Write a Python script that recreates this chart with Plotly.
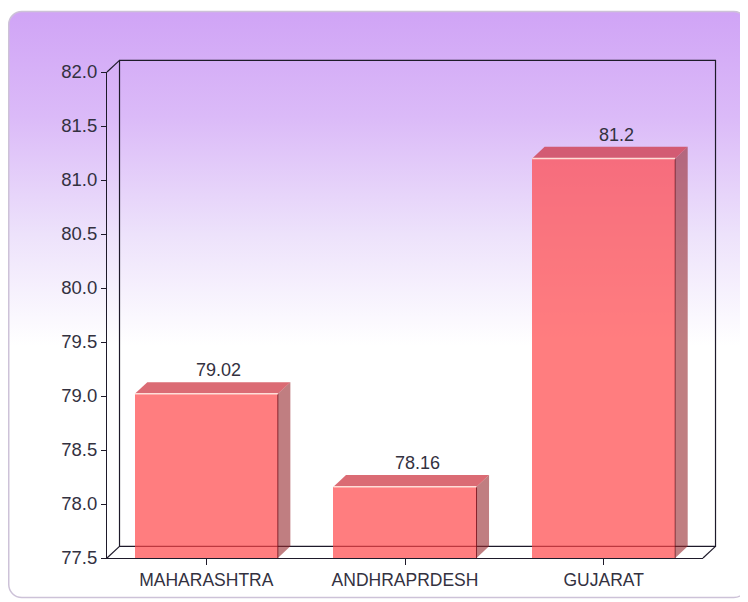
import base64
import plotly.graph_objects as go

# ---------------- data ----------------
categories = ["MAHARASHTRA", "ANDHRAPRDESH", "GUJARAT"]
values = [79.02, 78.16, 81.2]
value_labels = ["79.02", "78.16", "81.2"]
y_ticks = [77.5, 78.0, 78.5, 79.0, 79.5, 80.0, 80.5, 81.0, 81.5, 82.0]
y_tick_labels = ["77.5", "78.0", "78.5", "79.0", "79.5", "80.0", "80.5", "81.0", "81.5", "82.0"]

# ---------------- style ----------------
# the page has an 8px body margin, so the figure is 8px smaller than the window
W, H = 740, 594
ML, MR, MT, MB = 99, 45, 63.5, 42
Y0, Y1 = 77.5, 82.0
X0, X1 = -0.5, 2.5
BAR_W = 0.72
DX = 0.063   # depth offset in category units
DY = 0.108   # depth offset in value units
FONT = "Liberation Sans, Arial, sans-serif"
TXT = "#33313f"
FRAME = "#1e1a2a"

xs = list(range(len(categories)))

# background: rounded box with purple->white gradient (SVG image)
svg = f'''<svg xmlns="http://www.w3.org/2000/svg" width="{W}" height="{H}" viewBox="0 0 {W} {H}">
<defs>
<linearGradient id="g" x1="0" y1="0" x2="0" y2="1">
<stop offset="0" stop-color="#d0a4f6"/>
<stop offset="0.18" stop-color="#dbbaf8"/>
<stop offset="0.38" stop-color="#ede2fb"/>
<stop offset="0.57" stop-color="#ffffff"/>
<stop offset="1" stop-color="#ffffff"/>
</linearGradient>
</defs>
<rect x="0" y="0" width="{W}" height="{H}" fill="#ffffff"/>
<rect x="0.75" y="2.75" width="738" height="589" rx="13" ry="13" fill="url(#g)" stroke="#cdc2d8" stroke-width="1.5"/>
</svg>'''
svg_uri = "data:image/svg+xml;base64," + base64.b64encode(svg.encode()).decode()

pw = W - ML - MR
ph = H - MT - MB

fig = go.Figure()

# front faces
fig.add_trace(go.Bar(
    x=xs, y=[v - Y0 for v in values], base=Y0, width=BAR_W,
    marker=dict(color="rgba(255,70,72,0.7)", line=dict(width=0)),
    hoverinfo="skip", showlegend=False,
))

# side and top faces (derived from the data)
for x, v in zip(xs, values):
    xr = x + BAR_W / 2
    xl = x - BAR_W / 2
    fig.add_trace(go.Scatter(
        x=[xr, xr, xr + DX, xr + DX, xr], y=[Y0, v, v + DY, Y0 + DY, Y0],
        fill="toself", fillcolor="rgba(150,40,45,0.6)", mode="lines",
        line=dict(width=0), hoverinfo="skip", showlegend=False))
    fig.add_trace(go.Scatter(
        x=[xl, xr, xr + DX, xl + DX, xl], y=[v, v, v + DY, v + DY, v],
        fill="toself", fillcolor="rgba(205,50,62,0.72)", mode="lines",
        line=dict(width=0), hoverinfo="skip", showlegend=False))
    fig.add_trace(go.Scatter(
        x=[xr, xr], y=[Y0, v], mode="lines",
        line=dict(width=1, color="rgba(110,20,30,0.8)"),
        hoverinfo="skip", showlegend=False))
    fig.add_trace(go.Scatter(
        x=[xl, xr], y=[v, v], mode="lines",
        line=dict(width=1.5, color="rgba(255,228,220,0.95)"),
        hoverinfo="skip", showlegend=False))

# value labels
annotations = []
for x, v, lab in zip(xs, values, value_labels):
    annotations.append(dict(
        x=x + DX, y=v + DY, xref="x", yref="y", text=lab, showarrow=False,
        yanchor="bottom", yshift=0, font=dict(family=FONT, size=18, color=TXT)))

# 3D frame (paper coordinates from the depth offsets)
dxp = DX / (X1 - X0)
dyp = DY / (Y1 - Y0)
line = dict(color=FRAME, width=1.2)
shapes = [
    dict(type="rect", xref="paper", yref="paper", x0=dxp, x1=1 + dxp, y0=dyp, y1=1 + dyp,
         line=line, fillcolor="rgba(0,0,0,0)", layer="below"),
    dict(type="line", xref="paper", yref="paper", x0=0, y0=0, x1=dxp, y1=dyp, line=line, layer="below"),
    dict(type="line", xref="paper", yref="paper", x0=0, y0=1, x1=dxp, y1=1 + dyp, line=line, layer="below"),
    dict(type="line", xref="paper", yref="paper", x0=1, y0=0, x1=1 + dxp, y1=dyp, line=line, layer="below"),
]

fig.update_layout(
    width=W, height=H, autosize=False,
    margin=dict(l=ML, r=MR, t=MT, b=MB, pad=0),
    paper_bgcolor="#ffffff", plot_bgcolor="rgba(0,0,0,0)",
    font=dict(family=FONT, size=18, color=TXT),
    showlegend=False, bargap=0,
    shapes=shapes, annotations=annotations,
    images=[dict(source=svg_uri, xref="paper", yref="paper",
                 x=-ML / pw, y=1 + MT / ph, sizex=W / pw, sizey=H / ph,
                 xanchor="left", yanchor="top", sizing="stretch", layer="below")],
    xaxis=dict(range=[X0, X1], tickvals=xs, ticktext=categories,
               showline=True, linecolor=FRAME, linewidth=1.2,
               ticks="outside", ticklen=6, tickcolor=FRAME, tickwidth=1.2,
               showgrid=False, zeroline=False, layer="below traces",
               tickfont=dict(family=FONT, size=17.5, color=TXT), fixedrange=True),
    yaxis=dict(range=[Y0, Y1], tickvals=y_ticks, ticktext=y_tick_labels,
               showline=True, linecolor=FRAME, linewidth=1.2,
               ticks="outside", ticklen=5, tickcolor=FRAME, tickwidth=1.2,
               showgrid=False, zeroline=False,
               tickfont=dict(family=FONT, size=18.5, color=TXT), fixedrange=True),
)

fig.write_html("out.html", config={"displayModeBar": False})
